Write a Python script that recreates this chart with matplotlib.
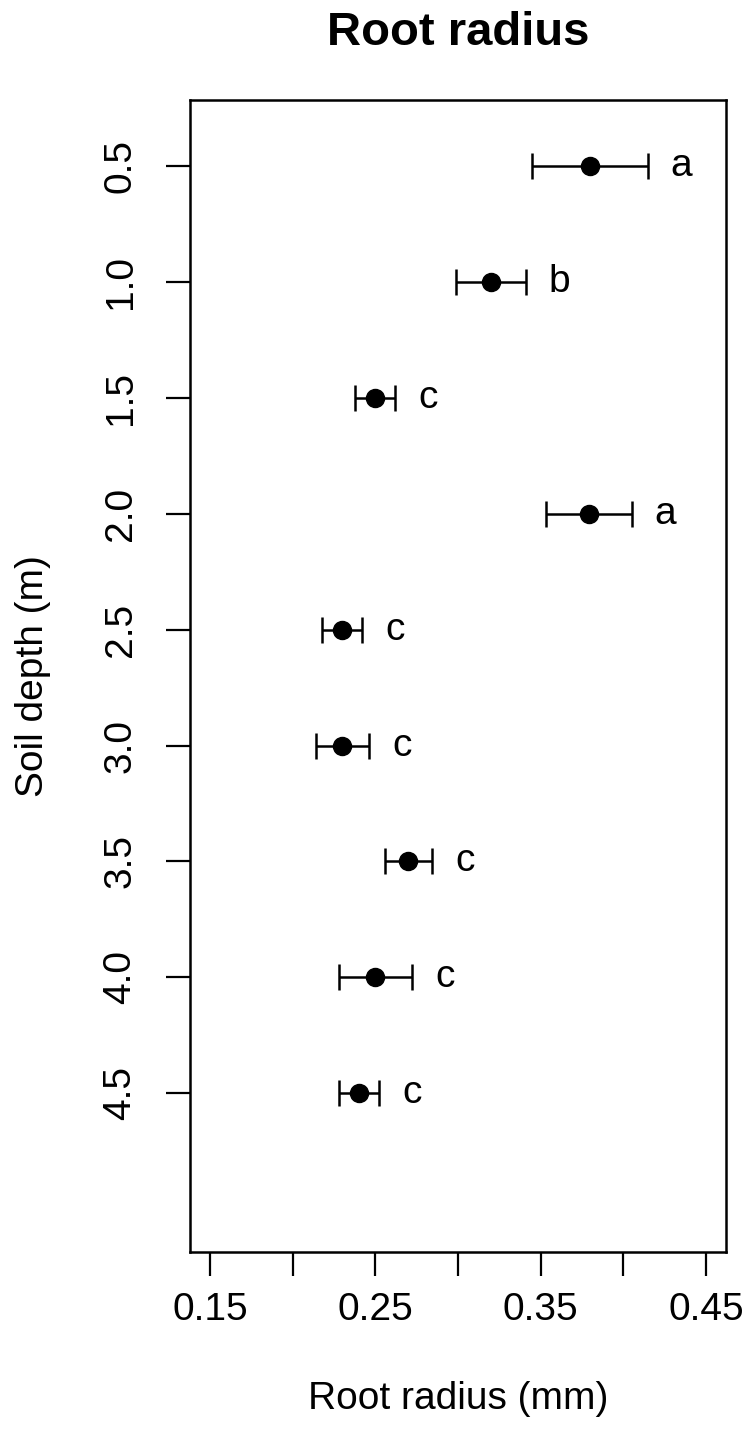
import matplotlib
matplotlib.use('Agg')
import matplotlib.pyplot as plt
import numpy as np

# values
depth = [0.5, 1.0, 1.5, 2.0, 2.5, 3.0, 3.5, 4.0, 4.5]
radius = [0.380, 0.320, 0.250, 0.379, 0.230, 0.230, 0.270, 0.250, 0.240]
se = [0.035, 0.021, 0.012, 0.026, 0.012, 0.016, 0.014, 0.022, 0.012]
letters = ['a', 'b', 'c', 'a', 'c', 'c', 'c', 'c', 'c']
xticks = [0.15, 0.20, 0.25, 0.30, 0.35, 0.40, 0.45]
xticklabels = ['0.15', '', '0.25', '', '0.35', '', '0.45']
yticks = [0.5, 1.0, 1.5, 2.0, 2.5, 3.0, 3.5, 4.0, 4.5]

plt.rcParams['font.family'] = ['Liberation Sans', 'DejaVu Sans']

fig = plt.figure(figsize=(7.5, 14.5), dpi=100)
ax = fig.add_axes([0.2533, 0.1366, 0.968 - 0.2533, 0.931 - 0.1366])

ax.errorbar(radius, depth, xerr=se, fmt='o', color='black', markersize=13,
            elinewidth=1.8, capsize=9.4, capthick=1.8)

for r, d, s, lab in zip(radius, depth, se, letters):
    ax.text(r + s + 0.02, d, lab, ha='center', va='center', fontsize=28)

ax.set_xlim(0.138, 0.462)
ax.set_ylim(5.184, 0.216)
ax.set_xticks(xticks)
ax.set_xticklabels(xticklabels)
ax.set_yticks(yticks)
ax.set_yticklabels([f'{v:.1f}' for v in yticks], rotation=90, va='center')
ax.tick_params(axis='both', labelsize=28, length=17, width=1.6)
ax.tick_params(axis='x', pad=12)
ax.tick_params(axis='y', pad=20)
for sp in ax.spines.values():
    sp.set_linewidth(1.8)

ax.set_xlabel('Root radius (mm)', fontsize=28, labelpad=38)
ax.set_ylabel('Soil depth (m)', fontsize=28, labelpad=37)
fig.text(0.611, 0.977, 'Root radius', ha='center', va='center',
         fontsize=34, fontweight='bold')

fig.savefig('out.png', dpi=100)
